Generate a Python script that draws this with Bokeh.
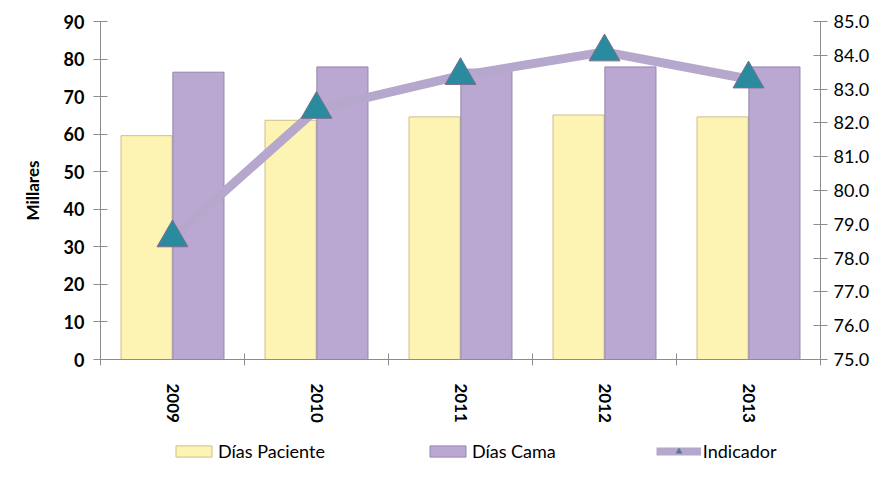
from bokeh.plotting import figure
from bokeh.layouts import column
from bokeh.models import (Range1d, LinearAxis, FixedTicker, Legend, LegendItem,
                          NumeralTickFormatter, ColumnDataSource)
from bokeh.embed import file_html
from bokeh.resources import INLINE

years = ["2009", "2010", "2011", "2012", "2013"]
dias_paciente = [59.6, 63.7, 64.6, 65.1, 64.6]
dias_cama = [76.5, 77.9, 77.3, 77.9, 77.9]
indicador = [78.6, 82.4, 83.4, 84.1, 83.3]
left_ticks = [0, 10, 20, 30, 40, 50, 60, 70, 80, 90]
right_ticks = [75, 76, 77, 78, 79, 80, 81, 82, 83, 84, 85]
series_names = ["Días Paciente", "Días Cama", "Indicador"]

pos = [i + 1 for i in range(len(years))]
src = ColumnDataSource(dict(
    x=pos,
    xp=[v - 0.18 for v in pos],
    xc=[v + 0.18 for v in pos],
    pac=dias_paciente,
    cama=dias_cama,
    ind=indicador,
))

FONT = "Lato"
YELLOW = "#fdf3b2"
YELLOW_EDGE = "#cdbf86"
PURPLE = "#baa8d2"
PURPLE_EDGE = "#9585ad"
LINE = "#b5a8cc"
TEAL = "#2a8a9e"
TRI_EDGE = "#7d6f91"

p = figure(frame_width=720, frame_height=338, x_range=Range1d(0.5, 5.5), y_range=Range1d(0, 90),
           output_backend="svg", toolbar_location=None,
           min_border_left=100, min_border_right=10, min_border_top=21, min_border_bottom=74)
p.outline_line_color = None
p.xgrid.visible = False
p.ygrid.visible = False
p.extra_y_ranges = {"ind": Range1d(75, 85)}

axis_color = "#8c8c8c"

# left axis
ya = p.yaxis[0]
ya.ticker = FixedTicker(ticks=left_ticks, minor_ticks=[])
ya.axis_label = "Millares"
ya.axis_label_text_font = FONT
ya.axis_label_text_font_style = "bold"
ya.axis_label_text_font_size = "17px"
ya.axis_label_text_color = "#000000"
ya.axis_label_standoff = 18
ya.major_label_text_font = FONT
ya.major_label_text_font_style = "bold"
ya.major_label_text_font_size = "18px"
ya.major_label_text_color = "#000000"
ya.major_label_standoff = 9
ya.major_tick_in = 7
ya.major_tick_out = 7
ya.major_tick_line_color = axis_color
ya.axis_line_color = axis_color
ya.minor_tick_line_color = None

# right axis
ra = LinearAxis(y_range_name="ind")
ra.ticker = FixedTicker(ticks=right_ticks, minor_ticks=[])
ra.formatter = NumeralTickFormatter(format="0.0")
ra.major_label_text_font = FONT
ra.major_label_text_font_size = "18px"
ra.major_label_text_color = "#000000"
ra.major_label_standoff = 6
ra.major_tick_in = 7
ra.major_tick_out = 7
ra.major_tick_line_color = axis_color
ra.axis_line_color = axis_color
ra.minor_tick_line_color = None
p.add_layout(ra, "right")

# bottom axis
xa = p.xaxis[0]
xa.ticker = FixedTicker(ticks=pos, minor_ticks=[v - 0.5 for v in pos] + [pos[-1] + 0.5])
xa.major_label_overrides = {v: y for v, y in zip(pos, years)}
xa.major_label_orientation = "vertical"
xa.major_label_text_font = FONT
xa.major_label_text_font_style = "bold"
xa.major_label_text_font_size = "17px"
xa.major_label_text_color = "#000000"
xa.major_label_standoff = 18
xa.major_tick_in = 0
xa.major_tick_out = 0
xa.minor_tick_in = 6
xa.minor_tick_out = 6
xa.minor_tick_line_color = axis_color
xa.axis_line_color = axis_color

bw = 0.355
p.vbar(x="xp", top="pac", width=bw, source=src,
       fill_color=YELLOW, line_color=YELLOW_EDGE, line_width=1)
p.vbar(x="xc", top="cama", width=bw, source=src,
       fill_color=PURPLE, line_color=PURPLE_EDGE, line_width=1)
p.line(x="x", y="ind", source=src, y_range_name="ind",
       line_color=LINE, line_width=9)
p.scatter(x="x", y="ind", source=src, y_range_name="ind", marker="triangle",
          size=31, fill_color=TEAL, line_color=TRI_EDGE, line_width=1)

# legend strip below the chart (same data, drawn out of view; only the legend shows)
p2 = figure(frame_width=720, frame_height=50, output_backend="svg", toolbar_location=None,
            x_range=Range1d(0.5, 5.5), y_range=Range1d(500, 501),
            min_border_left=100, min_border_right=10, min_border_top=0, min_border_bottom=0)
p2.axis.visible = False
p2.grid.visible = False
p2.outline_line_color = None
l_pac = p2.vbar(x="xp", top="pac", width=bw, source=src,
                fill_color=YELLOW, line_color=YELLOW_EDGE)
l_cama = p2.vbar(x="xc", top="cama", width=bw, source=src,
                 fill_color=PURPLE, line_color=PURPLE_EDGE)
l_line = p2.line(x="x", y="ind", source=src, line_color=LINE, line_width=8)
l_mark = p2.scatter(x="x", y="ind", source=src, marker="triangle", size=17,
                    fill_color=TEAL, line_color=TRI_EDGE)

legend = Legend(items=[
    LegendItem(label=series_names[0], renderers=[l_pac]),
    LegendItem(label=series_names[1], renderers=[l_cama]),
    LegendItem(label=series_names[2], renderers=[l_line, l_mark]),
], orientation="horizontal", location=(71, 21))
legend.label_text_font = FONT
legend.label_text_font_size = "18px"
legend.label_text_color = "#000000"
legend.glyph_width = 45
legend.glyph_height = 14
legend.spacing = 100
legend.label_standoff = 2
legend.border_line_color = None
legend.background_fill_alpha = 0
legend.margin = 0
legend.padding = 4
p2.add_layout(legend)

layout = column(p, p2, spacing=0)
open("out.html", "w").write(file_html(layout, INLINE))
